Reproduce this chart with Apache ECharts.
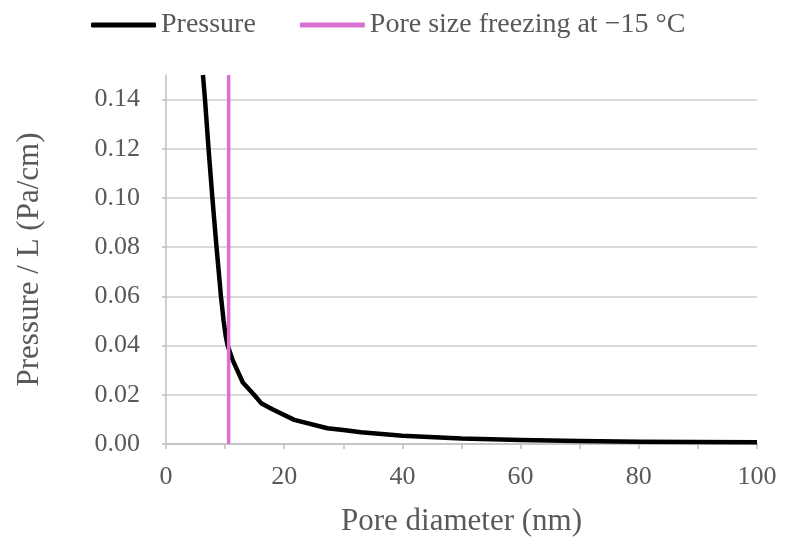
<!DOCTYPE html>
<html>
<head>
<meta charset="utf-8">
<script src="https://cdn.jsdelivr.net/npm/echarts@6/dist/echarts.min.js"></script>
<style>
  html, body { margin: 0; padding: 0; background: #fff; }
  #chart { width: 789px; height: 549px; }
</style>
</head>
<body>
<div id="chart"></div>
<script>
// values
const poreDiameter = [6.25, 6.6, 7.2, 7.85, 8.55, 9.3, 9.75, 10.1, 10.43, 11.3, 13, 14.9, 16.1, 18, 21.7, 27.3, 30, 33, 40, 50, 60, 70, 80, 90, 100]
const pressure = [0.15, 0.14, 0.12, 0.10, 0.08, 0.06, 0.05, 0.044, 0.04, 0.034, 0.025, 0.02, 0.0166, 0.0141, 0.0098, 0.0064, 0.0057, 0.0048, 0.0034, 0.0022, 0.0016, 0.0012, 0.0009, 0.0008, 0.0007]
const freezingPore = 10.6
const freezingLineY = [0, 0.15]
const yTicks = [0, 0.02, 0.04, 0.06, 0.08, 0.10, 0.12, 0.14]
const xLabels = [0, 20, 40, 60, 80, 100]

const font = 'Liberation Serif'
const textColor = '#595959'

const chart = echarts.init(document.getElementById('chart'))

chart.setOption({
  backgroundColor: '#fff',
  animation: false,
  textStyle: { fontFamily: font, color: textColor },
  legend: {
    top: 6,
    left: 86,
    itemWidth: 65,
    itemHeight: 5,
    itemGap: 44,
    icon: 'roundRect',
    textStyle: { fontFamily: font, fontSize: 28, color: textColor },
    data: ['Pressure', 'Pore size freezing at \u221215 \u00B0C']
  },
  grid: { left: 166, right: 32, top: 75, bottom: 105, outerBoundsMode: 'none' },
  xAxis: {
    type: 'value',
    min: 0,
    max: 100,
    interval: 10,
    name: 'Pore diameter (nm)',
    nameLocation: 'middle',
    nameGap: 62,
    nameTextStyle: { fontFamily: font, fontSize: 31, color: textColor },
    axisLine: { lineStyle: { color: '#bfbfbf', width: 1.5 } },
    axisTick: { show: true, length: 5, lineStyle: { color: '#bfbfbf', width: 1.5 } },
    axisLabel: {
      fontFamily: font, fontSize: 26, color: textColor, margin: 20,
      customValues: xLabels
    },
    splitLine: { show: false }
  },
  yAxis: {
    type: 'value',
    min: 0,
    max: 0.15,
    name: 'Pressure / L (Pa/cm)',
    nameLocation: 'middle',
    nameGap: 121,
    nameTextStyle: { fontFamily: font, fontSize: 31, color: textColor },
    axisLine: { show: true, lineStyle: { color: '#bfbfbf', width: 1.5 } },
    axisTick: { show: true, length: 4, customValues: yTicks, lineStyle: { color: '#bfbfbf', width: 1.5 } },
    axisLabel: {
      fontFamily: font, fontSize: 26, color: textColor, margin: 26,
      customValues: yTicks,
      formatter: v => v.toFixed(2)
    },
    splitLine: { show: true, lineStyle: { color: '#d9d9d9', width: 2 } }
  },
  series: [
    {
      name: 'Pressure',
      type: 'line',
      data: poreDiameter.map((d, i) => [d, pressure[i]]),
      showSymbol: false,
      clip: true,
      lineStyle: { color: '#000', width: 4.5, join: 'round' },
      itemStyle: { color: '#000' },
      z: 3
    },
    {
      name: 'Pore size freezing at \u221215 \u00B0C',
      type: 'line',
      data: freezingLineY.map(y => [freezingPore, y]),
      showSymbol: false,
      lineStyle: { color: '#d971d2', width: 3.5 },
      itemStyle: { color: '#d971d2' },
      z: 4
    }
  ]
})
</script>
</body>
</html>
